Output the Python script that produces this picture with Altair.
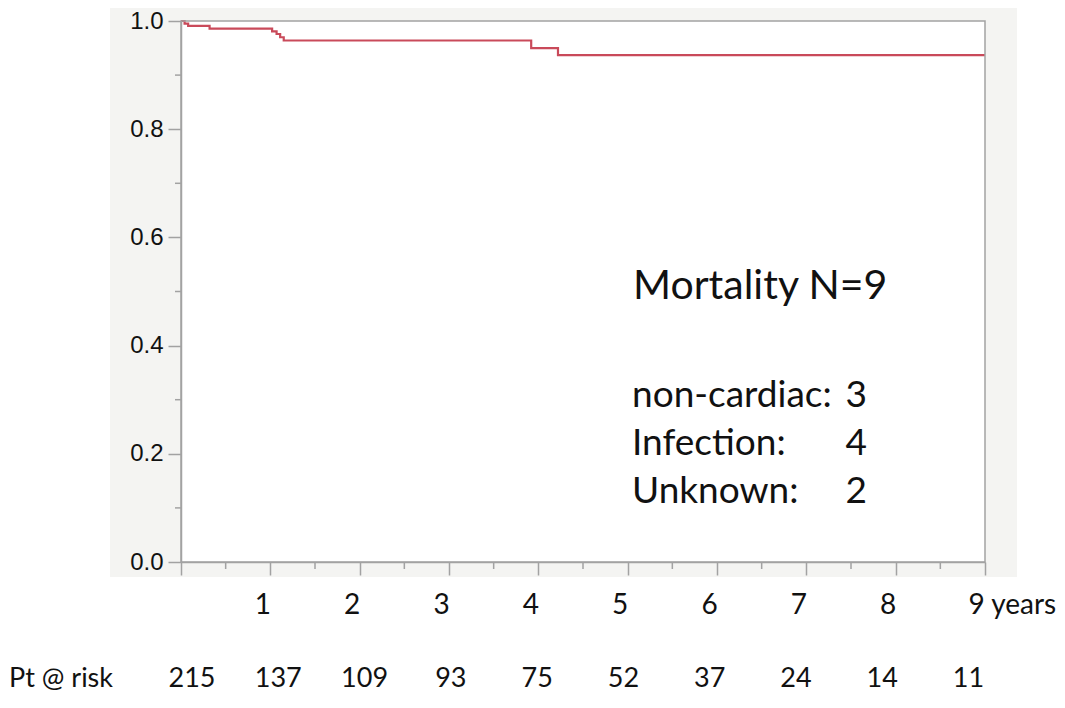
import altair as alt
import pandas as pd

# Kaplan-Meier survival curve (step after each event)
times = [0.0, 0.04, 0.08, 0.32, 1.02, 1.07, 1.11, 1.15, 3.92, 4.22, 9.0]
survival = [1.0, 0.995, 0.991, 0.986, 0.981, 0.976, 0.970, 0.964, 0.950, 0.937, 0.937]

# patients at risk
risk_years = [0, 1, 2, 3, 4, 5, 6, 7, 8, 9]
at_risk = [215, 137, 109, 93, 75, 52, 37, 24, 14, 11]

# axis ticks
x_major = [0, 1, 2, 3, 4, 5, 6, 7, 8, 9]
x_minor = [0.5, 1.5, 2.5, 3.5, 4.5, 5.5, 6.5, 7.5, 8.5]
y_major = [0.0, 0.2, 0.4, 0.6, 0.8, 1.0]
y_minor = [0.1, 0.3, 0.5, 0.7, 0.9]

# mortality causes
causes = ["non-cardiac:", "Infection:", "Unknown:"]
counts = [3, 4, 2]

W, H = 804, 541
GRAY = "#a2a2a2"
LINE = "#c94a5a"
TXT = "#111111"
FONT_S = "Lato"
FONT_A = "Liberation Sans"

xs = alt.Scale(domain=[0, 9], nice=False, zero=False)
ys = alt.Scale(domain=[0, 1], nice=False, zero=False)

y_axis = alt.Axis(
    values=y_major, format=".1f", title=None, grid=False, tickSize=13,
    tickWidth=1.5, tickColor=GRAY, domainColor=GRAY, domainWidth=1.5,
    labelFont=FONT_A, labelFontSize=24, labelColor=TXT, labelPadding=5,
    labelFlush=False, labelOverlap=False, zindex=1)

x_axis = alt.Axis(
    values=x_major, title=None, grid=False, tickSize=13, tickWidth=1.5,
    tickColor=GRAY, domainColor=GRAY, domainWidth=1.5,
    labelExpr="datum.value == 0 ? '' : (datum.value == 9 ? '9 years' : datum.label)",
    labelFont=FONT_S, labelFontSize=28, labelColor=TXT, labelPadding=16,
    labelAlign=alt.condition("datum.value == 9", alt.value("left"), alt.value("center")),
    labelOffset=alt.condition("datum.value == 9", alt.value(-17), alt.value(-8)),
    labelFlush=False, labelOverlap=False, zindex=1)

one = pd.DataFrame({"k": [0]})
curve_df = pd.DataFrame({"t": times, "s": survival})
risk_df = pd.DataFrame({"yr": risk_years, "n": [str(v) for v in at_risk]})
xmin_df = pd.DataFrame({"v": x_minor})
ymin_df = pd.DataFrame({"s": y_minor})

bg = alt.Chart(one).mark_rect(color="#f4f4f2").encode(
    x=alt.value(-71), x2=alt.value(836), y=alt.value(-13), y2=alt.value(556)
)
plot_bg = alt.Chart(one).mark_rect(color="white").encode(
    x=alt.value(0), x2=alt.value(W), y=alt.value(0), y2=alt.value(H)
)

curve = alt.Chart(curve_df).mark_line(
    interpolate="step-after", color=LINE, strokeWidth=2.2
).encode(
    x=alt.X("t:Q", scale=xs, axis=x_axis),
    y=alt.Y("s:Q", scale=ys, axis=y_axis),
)

y_minor_ticks = alt.Chart(ymin_df).mark_rule(color=GRAY, strokeWidth=1.5).encode(
    y=alt.Y("s:Q", scale=ys, axis=y_axis), x=alt.value(-6), x2=alt.value(0)
)
x_minor_ticks = alt.Chart(xmin_df).mark_rule(color=GRAY, strokeWidth=1.5).encode(
    x=alt.X("v:Q", scale=xs, axis=None), y=alt.value(H), y2=alt.value(H + 7)
)

frame = alt.Chart(one).mark_rect(fillOpacity=0, stroke=GRAY, strokeWidth=1.5).encode(
    x=alt.value(0), x2=alt.value(W), y=alt.value(0), y2=alt.value(H)
)

title_txt = alt.Chart(one).mark_text(
    align="left", baseline="alphabetic", font=FONT_S, fontSize=41, color=TXT
).encode(x=alt.value(452), y=alt.value(278), text=alt.value(f"Mortality N={sum(counts)}"))

cause_txt = alt.Chart(one).mark_text(
    align="left", baseline="alphabetic", font=FONT_S, fontSize=37, color=TXT, lineHeight=48
).encode(x=alt.value(451), y=alt.value(386), text=alt.value(causes))

count_txt = alt.Chart(one).mark_text(
    align="right", baseline="alphabetic", font=FONT_S, fontSize=37, color=TXT, lineHeight=48
).encode(x=alt.value(686), y=alt.value(386), text=alt.value([str(c) for c in counts]))

risk_label = alt.Chart(one).mark_text(
    align="left", baseline="middle", font=FONT_S, fontSize=27, color=TXT
).encode(x=alt.value(-172), y=alt.value(658), text=alt.value("Pt @ risk"))

risk_txt = alt.Chart(risk_df).mark_text(
    align="center", baseline="middle", font=FONT_S, fontSize=27, color=TXT
).encode(
    x=alt.X("yr:Q", scale=alt.Scale(domain=[-0.1276, 9.191], nice=False, zero=False), axis=None),
    y=alt.value(658),
    text="n:N",
)

chart = alt.layer(
    bg, plot_bg, curve, y_minor_ticks, x_minor_ticks, frame,
    title_txt, cause_txt, count_txt, risk_label, risk_txt
).resolve_scale(x="independent").properties(
    width=W, height=H,
    autosize=alt.AutoSizeParams(type="none"),
    padding={"left": 173, "top": 13, "right": 72, "bottom": 134},
    background="white",
).configure_view(strokeWidth=0)

chart.save("out.html", embed_options={"renderer": "svg", "actions": False})
